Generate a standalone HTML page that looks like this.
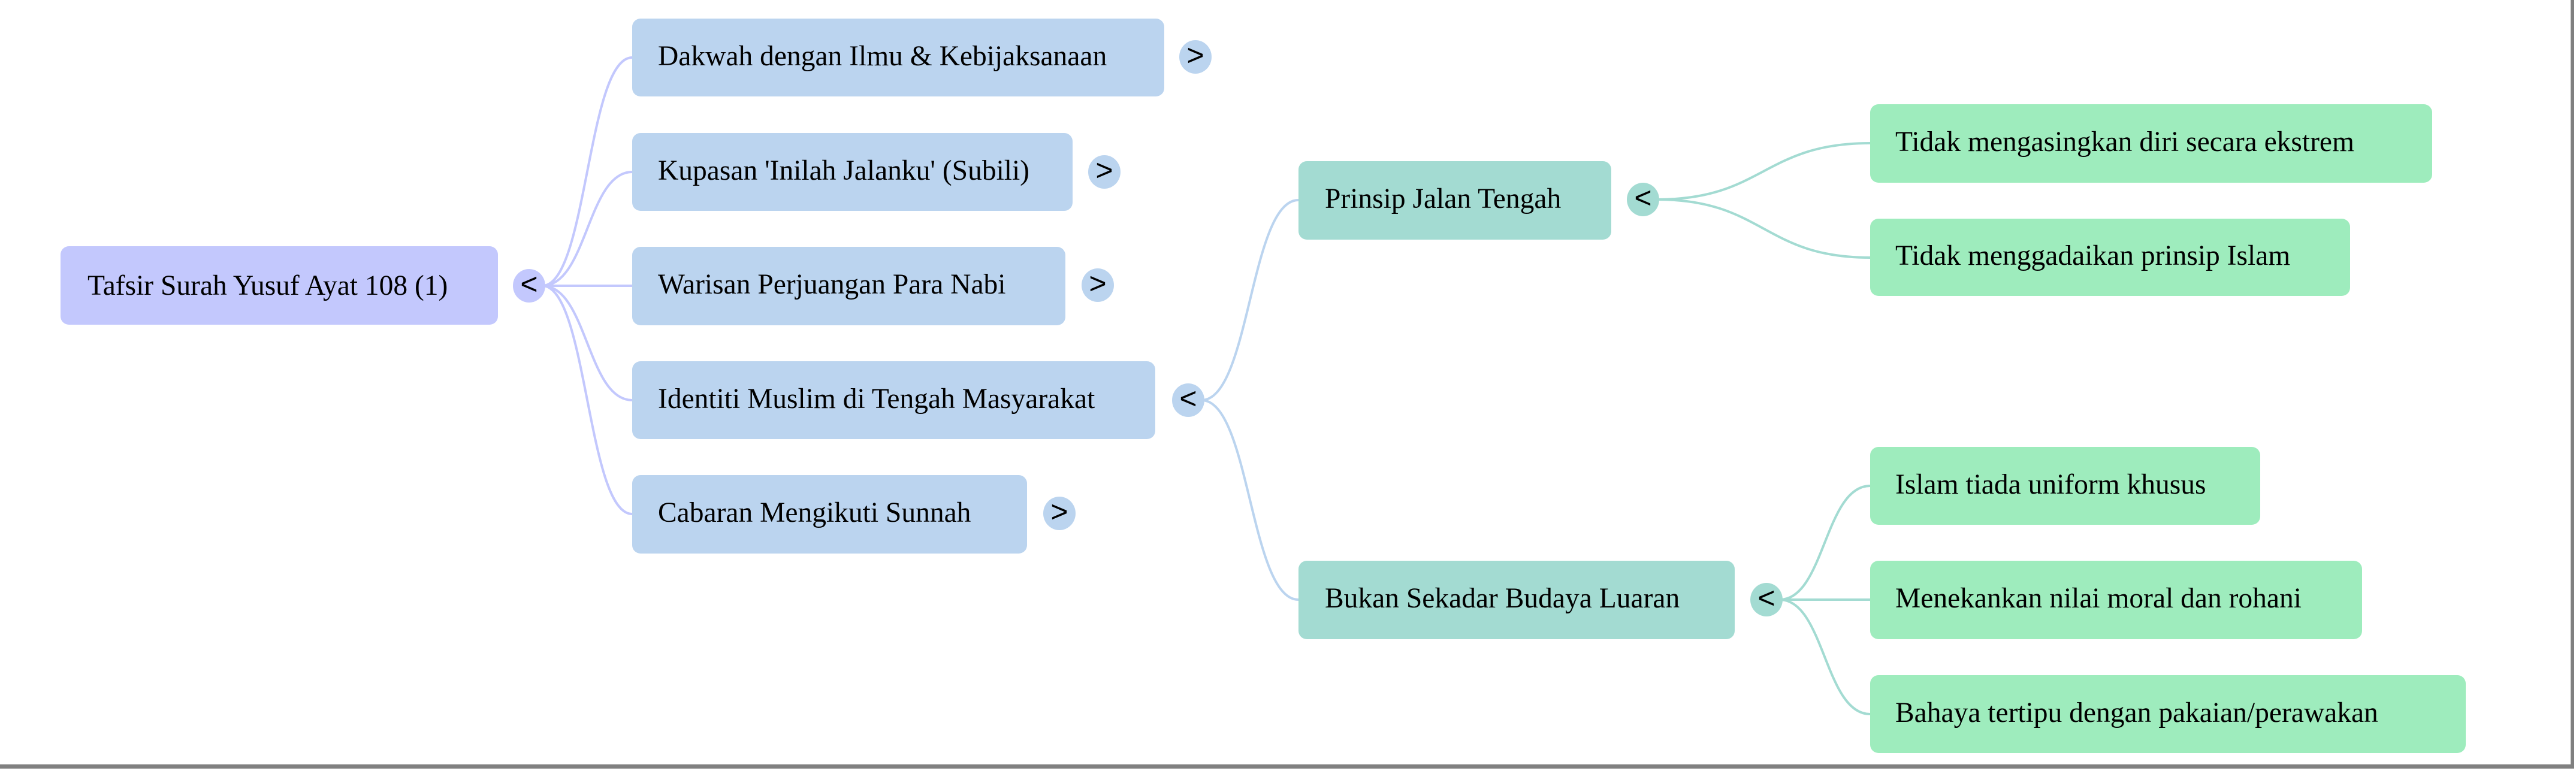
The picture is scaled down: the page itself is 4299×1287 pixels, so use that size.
<!DOCTYPE html>
<html><head><meta charset="utf-8"><style>
html,body{margin:0;padding:0;background:#fff;}
svg{display:block;}
text{font-family:"Liberation Serif",serif;font-size:47.5px;fill:#000;dominant-baseline:central;}
.t{font-family:"Liberation Sans",sans-serif;font-size:50px;text-anchor:middle;}
</style></head><body>
<svg width="4299" height="1287" viewBox="0 0 4299 1287" xmlns="http://www.w3.org/2000/svg">
<rect x="0" y="0" width="4299" height="1287" fill="#fff"/>
<rect x="4290" y="0" width="6" height="1283" fill="#808080"/>
<rect x="0" y="1276" width="4296" height="7" fill="#808080"/>

<g fill="none" stroke="#c3c8fd" stroke-width="4">
<path d="M905 477 C980 477 980 96 1055 96"/>
<path d="M905 477 C980 477 980 287 1055 287"/>
<path d="M905 477 L1055 477"/>
<path d="M905 477 C980 477 980 668 1055 668"/>
<path d="M905 477 C980 477 980 858 1055 858"/>
</g>
<g fill="none" stroke="#bbd4ef" stroke-width="4">
<path d="M2005 668 C2086 668 2086 334 2167 334"/>
<path d="M2005 668 C2086 668 2086 1001 2167 1001"/>
</g>
<g fill="none" stroke="#a3dbd2" stroke-width="4">
<path d="M2765 333 C2943 333 2943 239 3121 239"/>
<path d="M2765 333 C2943 333 2943 430 3121 430"/>
<path d="M2970 1001 C3045 1001 3045 811 3121 811"/>
<path d="M2970 1001 L3121 1001"/>
<path d="M2970 1001 C3045 1001 3045 1192 3121 1192"/>
</g>

<rect x="101" y="411" width="730" height="131" rx="14" fill="#c3c8fd"/>
<text x="146" y="477">Tafsir Surah Yusuf Ayat 108 (1)</text>
<ellipse cx="883" cy="477" rx="27" ry="28" fill="#c3c8fd"/><text class="t" x="883" y="474">&lt;</text>

<rect x="1055" y="31" width="888" height="130" rx="14" fill="#bbd4ef"/>
<text x="1098" y="94">Dakwah dengan Ilmu &amp; Kebijaksanaan</text>
<ellipse cx="1995" cy="95" rx="27" ry="28" fill="#bbd4ef"/><text class="t" x="1995" y="92">&gt;</text>

<rect x="1055" y="222" width="735" height="130" rx="14" fill="#bbd4ef"/>
<text x="1098" y="285">Kupasan 'Inilah Jalanku' (Subili)</text>
<ellipse cx="1843" cy="287" rx="27" ry="28" fill="#bbd4ef"/><text class="t" x="1843" y="284">&gt;</text>

<rect x="1055" y="412" width="723" height="131" rx="14" fill="#bbd4ef"/>
<text x="1098" y="475">Warisan Perjuangan Para Nabi</text>
<ellipse cx="1832" cy="476" rx="27" ry="28" fill="#bbd4ef"/><text class="t" x="1832" y="473">&gt;</text>

<rect x="1055" y="603" width="873" height="130" rx="14" fill="#bbd4ef"/>
<text x="1098" y="666">Identiti Muslim di Tengah Masyarakat</text>
<ellipse cx="1983" cy="668" rx="27" ry="28" fill="#bbd4ef"/><text class="t" x="1983" y="665">&lt;</text>

<rect x="1055" y="793" width="659" height="131" rx="14" fill="#bbd4ef"/>
<text x="1098" y="856">Cabaran Mengikuti Sunnah</text>
<ellipse cx="1768" cy="857" rx="27" ry="28" fill="#bbd4ef"/><text class="t" x="1768" y="854">&gt;</text>

<rect x="2167" y="269" width="522" height="131" rx="14" fill="#a3dbd2"/>
<text x="2211" y="332">Prinsip Jalan Tengah</text>
<ellipse cx="2742" cy="333" rx="27" ry="28" fill="#a3dbd2"/><text class="t" x="2742" y="330">&lt;</text>

<rect x="2167" y="936" width="728" height="131" rx="14" fill="#a3dbd2"/>
<text x="2211" y="999">Bukan Sekadar Budaya Luaran</text>
<ellipse cx="2948" cy="1001" rx="27" ry="28" fill="#a3dbd2"/><text class="t" x="2948" y="998">&lt;</text>

<rect x="3121" y="174" width="938" height="131" rx="14" fill="#9eecbd"/>
<text x="3163" y="237">Tidak mengasingkan diri secara ekstrem</text>
<rect x="3121" y="365" width="801" height="129" rx="14" fill="#9eecbd"/>
<text x="3163" y="427">Tidak menggadaikan prinsip Islam</text>
<rect x="3121" y="746" width="651" height="130" rx="14" fill="#9eecbd"/>
<text x="3163" y="809">Islam tiada uniform khusus</text>
<rect x="3121" y="936" width="821" height="131" rx="14" fill="#9eecbd"/>
<text x="3163" y="999">Menekankan nilai moral dan rohani</text>
<rect x="3121" y="1127" width="994" height="130" rx="14" fill="#9eecbd"/>
<text x="3163" y="1190">Bahaya tertipu dengan pakaian/perawakan</text>
</svg>
</body></html>
